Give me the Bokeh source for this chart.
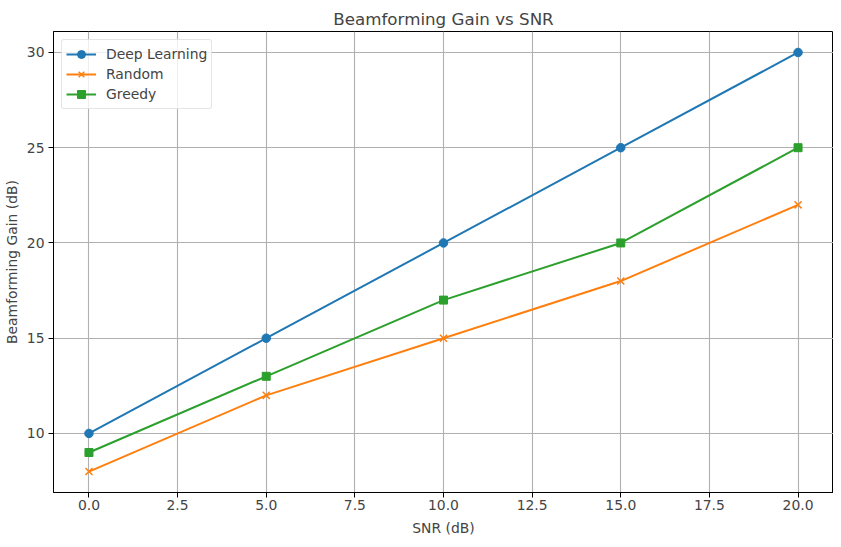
from bokeh.plotting import figure
from bokeh.models import Range1d, FixedTicker, Legend, LegendItem, CustomJSTickFormatter
from bokeh.embed import file_html
from bokeh.resources import INLINE

snr = [0, 5, 10, 15, 20]
deep_learning = [10, 15, 20, 25, 30]
random_sel = [8, 12, 15, 18, 22]
greedy = [9, 13, 17, 20, 25]
x_ticks = [0, 2.5, 5, 7.5, 10, 12.5, 15, 17.5, 20]
y_ticks = [10, 15, 20, 25, 30]

FONT = "DejaVu Sans"

p = figure(width=833, height=538, output_backend="svg", toolbar_location=None,
           x_range=Range1d(-1, 21), y_range=Range1d(6.9, 31.1),
           min_border_left=52, min_border_right=0, min_border_top=31, min_border_bottom=41,
           title="Beamforming Gain vs SNR")
p.background_fill_color = "white"
p.border_fill_color = "white"
p.outline_line_color = "black"
p.outline_line_width = 1

p.title.align = "center"
p.title.text_font = FONT
p.title.text_font_size = "16.7px"
p.title.text_font_style = "normal"
p.title.standoff = 6
p.title.offset = 0

for ax in (p.xaxis, p.yaxis):
    ax.axis_label_text_font = FONT
    ax.axis_label_text_font_size = "13.9px"
    ax.axis_label_text_font_style = "normal"
    ax.major_label_text_font = FONT
    ax.major_label_text_font_size = "13.9px"
    ax.major_tick_out = 5
    ax.major_tick_in = 0
    ax.minor_tick_out = 0
    ax.minor_tick_in = 0
    ax.axis_line_color = "black"
    ax.major_tick_line_color = "black"
    ax.major_label_standoff = 4

p.xaxis.major_label_standoff = 2
p.xaxis.axis_label = "SNR (dB)"
p.yaxis.axis_label = "Beamforming Gain (dB)"
p.xaxis.axis_label_standoff = 7
p.yaxis.axis_label_standoff = 4
p.xaxis.ticker = FixedTicker(ticks=x_ticks)
p.yaxis.ticker = FixedTicker(ticks=y_ticks)
p.xaxis.formatter = CustomJSTickFormatter(code="return tick.toFixed(1);")
p.yaxis.formatter = CustomJSTickFormatter(code="return tick.toFixed(0);")

p.xgrid.grid_line_color = "#b0b0b0"
p.ygrid.grid_line_color = "#b0b0b0"
p.xgrid.grid_line_width = 1.1
p.ygrid.grid_line_width = 1.1

c1, c2, c3 = "#1f77b4", "#ff7f0e", "#2ca02c"

l1 = p.line(snr, deep_learning, line_color=c1, line_width=2)
m1 = p.scatter(snr, deep_learning, marker="circle", size=8.5, fill_color=c1, line_color=c1)
l2 = p.line(snr, random_sel, line_color=c2, line_width=2)
m2 = p.scatter(snr, random_sel, marker="x", size=10, line_color=c2, line_width=1.5)
l3 = p.line(snr, greedy, line_color=c3, line_width=2)
m3 = p.scatter(snr, greedy, marker="square", size=8, fill_color=c3, line_color=c3)

legend = Legend(items=[
    LegendItem(label="Deep Learning", renderers=[l1, m1]),
    LegendItem(label="Random", renderers=[l2, m2]),
    LegendItem(label="Greedy", renderers=[l3, m3]),
], location="top_left")
legend.label_text_font = FONT
legend.label_text_font_size = "13.9px"
legend.glyph_width = 30
legend.glyph_height = 20
legend.label_height = 20
legend.spacing = 0
legend.padding = 4
legend.margin = 8
legend.label_standoff = 10
legend.border_line_color = "#cccccc"
legend.border_line_width = 1
legend.background_fill_alpha = 0.8
legend.border_radius = 3
p.add_layout(legend)

open("out.html", "w").write(file_html(p, INLINE))
